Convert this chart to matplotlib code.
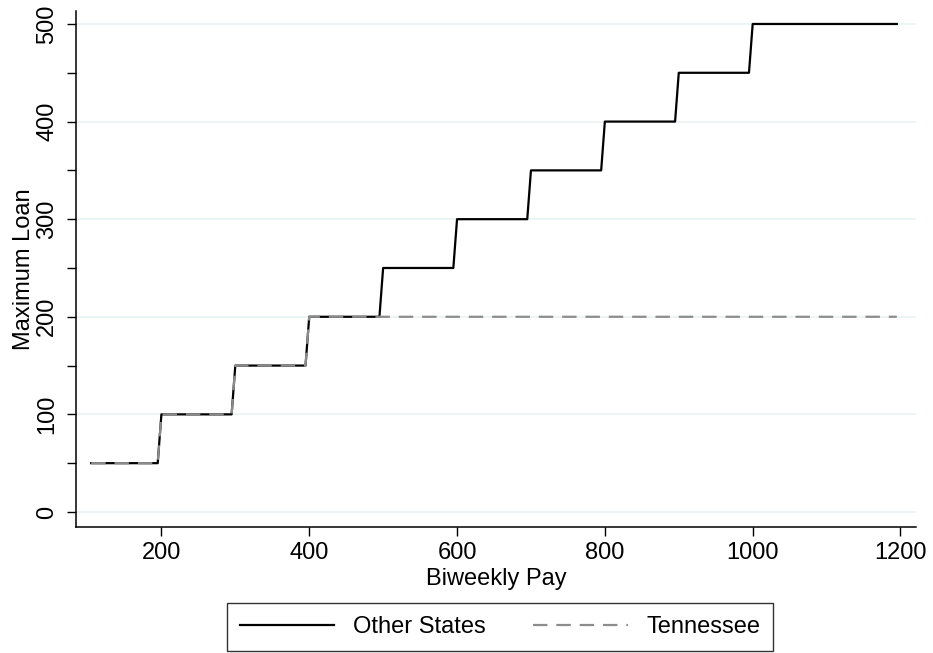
import matplotlib.pyplot as plt
import numpy as np

# step breakpoints (biweekly pay, maximum loan)
pay_other = [105, 195, 200, 295, 300, 395, 400, 495, 500, 595, 600, 695,
             700, 795, 800, 895, 900, 995, 1000, 1195]
loan_other = [50, 50, 100, 100, 150, 150, 200, 200, 250, 250, 300, 300,
              350, 350, 400, 400, 450, 450, 500, 500]
pay_tn = [105, 195, 200, 295, 300, 395, 400, 1195]
loan_tn = [50, 50, 100, 100, 150, 150, 200, 200]

x_ticks = [200, 400, 600, 800, 1000, 1200]
y_ticks = [0, 100, 200, 300, 400, 500]

plt.rcParams["font.family"] = ["Liberation Sans", "DejaVu Sans"]
fs = 17

fig = plt.figure(figsize=[9.33, 6.53], dpi=100)
ax = fig.add_axes([0.0811, 0.1925, 0.9007, 0.7911])

for y in y_ticks:
    ax.axhline(y, color="#eaf2f3", linewidth=1.2, zorder=0)

ax.plot(pay_other, loan_other, color="black", linewidth=1.6,
        label="Other States", zorder=3)
ax.plot(pay_tn, loan_tn, color="#8c8c8c", linewidth=1.6,
        dashes=(6.5, 4), label="Tennessee", zorder=4)

ax.set_xlim(84, 1221)
ax.set_ylim(-15.7, 513.6)
ax.set_xticks(x_ticks)
ax.set_yticks(y_ticks)
ax.set_yticks(np.arange(50, 500, 100), minor=True)
ax.tick_params(axis="both", which="both", direction="out", length=6.5,
               width=1, labelsize=fs, color="black")
ax.tick_params(axis="x", pad=4)
ax.tick_params(axis="y", pad=6)
for lab in ax.get_yticklabels():
    lab.set_rotation(90)
    lab.set_va("center")

ax.spines["top"].set_visible(False)
ax.spines["right"].set_visible(False)
for s in ("left", "bottom"):
    ax.spines[s].set_linewidth(1.1)

ax.set_xlabel("Biweekly Pay", fontsize=fs, labelpad=3)
ax.set_ylabel("Maximum Loan", fontsize=fs, labelpad=1)

leg = fig.legend(loc="center", bbox_to_anchor=(0.536, 0.0398), ncol=2,
                 fontsize=fs, frameon=True, fancybox=False, handlelength=4.0,
                 columnspacing=2.0, borderpad=0.55, handletextpad=0.8)
leg.get_frame().set_edgecolor("black")
leg.get_frame().set_linewidth(1.0)

fig.savefig("out.png", dpi=100)
